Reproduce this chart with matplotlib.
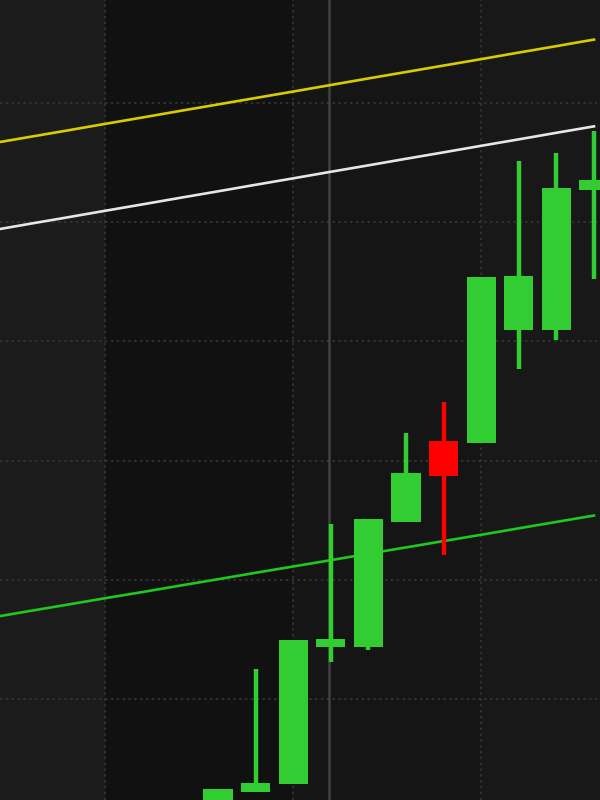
import matplotlib
matplotlib.use("Agg")
import matplotlib.pyplot as plt

# --- data (candles indexed 0..10 left to right) ---
candle_idx = [0, 1, 2, 3, 4, 5, 6, 7, 8, 9, 10]
opens  = [90.27, 92.20, 92.87, 104.36, 104.36, 114.85, 121.64, 121.48, 130.96, 130.96, 142.70]
highs  = [92.45, 102.52, 104.95, 114.68, 115.10, 122.32, 124.92, 135.40, 145.13, 145.81, 147.65]
lows   = [89.85, 92.20, 92.87, 103.10, 104.11, 114.85, 112.08, 121.48, 127.68, 130.12, 135.23]
closes = [92.45, 92.96, 104.95, 105.03, 115.10, 118.96, 118.71, 135.40, 135.49, 142.87, 143.54]

line_idx = [-6, -5, -4, -3, -2, -1, 0, 1, 2, 3, 4, 5, 6, 7, 8, 9, 10]
upper_band = [146.62, 147.16, 147.70, 148.25, 148.79, 149.34, 149.88, 150.42, 150.96,
              151.51, 152.06, 152.60, 153.14, 153.68, 154.23, 154.77, 155.32]
middle_band = [139.32, 139.87, 140.41, 140.96, 141.50, 142.05, 142.59, 143.14, 143.68,
               144.23, 144.77, 145.32, 145.86, 146.41, 146.95, 147.50, 148.04]
lower_band = [106.85, 107.39, 107.92, 108.46, 108.98, 109.52, 110.05, 110.59, 111.12,
              111.65, 112.19, 112.72, 113.25, 113.78, 114.32, 114.86, 115.39]

price_grid = [100, 110, 120, 130, 140, 150]
time_grid = [-3, 2, 7]
band_edges = [-5.8, -3, 2, 7, 10.16]
band_colors = ["#1b1b1b", "#111111", "#151515", "#181818"]
cursor_x = 2.95

fig = plt.figure(figsize=(6, 8), dpi=100)
fig.patch.set_facecolor("#151515")
ax = fig.add_axes([0, 0, 1, 1])
ax.set_facecolor("#151515")
ax.set_xlim(-5.8, 10.16)
ax.set_ylim(91.53, 158.64)
ax.set_axis_off()

for i in range(len(band_colors)):
    ax.axvspan(band_edges[i], band_edges[i + 1], color=band_colors[i], lw=0, zorder=0)

for p in price_grid:
    ax.axhline(p, color="#363636", lw=1.2, ls=(0, (1.5, 2)), zorder=1)
for t in time_grid:
    ax.axvline(t, color="#363636", lw=1.2, ls=(0, (1.5, 2)), zorder=1)
ax.axvline(cursor_x, color="#404040", lw=1.8, zorder=1)

ax.plot(line_idx, upper_band, color="#d8cc00", lw=1.9, zorder=2)
ax.plot(line_idx, middle_band, color="#e6e6e6", lw=1.9, zorder=2)
ax.plot(line_idx, lower_band, color="#1fc81f", lw=1.9, zorder=2)

width = 0.78
for x, o, h, l, c in zip(candle_idx, opens, highs, lows, closes):
    col = "#32cd32" if c >= o else "#ff0000"
    ax.vlines(x, l, h, color=col, lw=3.2, zorder=3)
    lo, hi = min(o, c), max(o, c)
    ax.bar(x, max(hi - lo, 0.6), bottom=lo, width=width, color=col, lw=0, zorder=4)

fig.savefig("out.png", dpi=100, facecolor=fig.get_facecolor())
